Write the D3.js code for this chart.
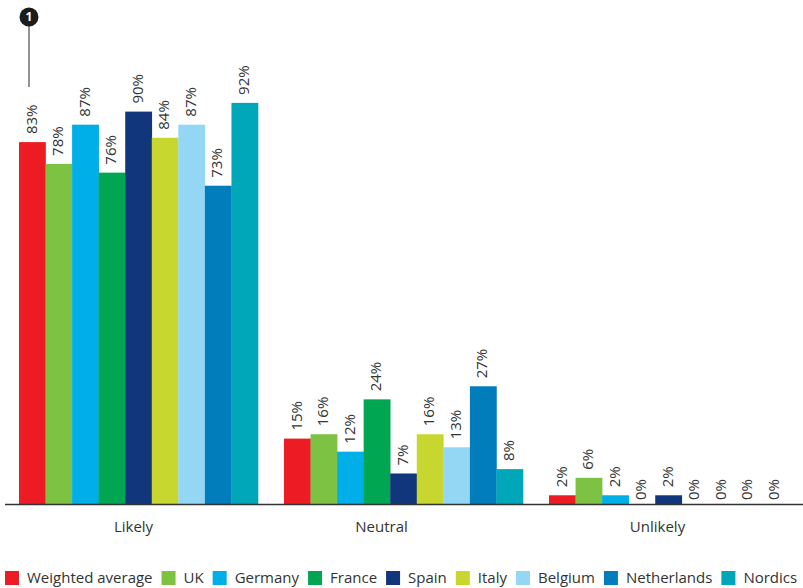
<!DOCTYPE html>
<html>
<head>
<meta charset="utf-8">
<script src="https://cdn.jsdelivr.net/npm/d3@7.9.0/dist/d3.min.js"></script>
<style>
  body { margin: 0; background: #fff; }
  svg { display: block; font-family: "Open Sans", sans-serif; }
</style>
</head>
<body>
<svg id="chart" width="803" height="588"></svg>
<script>
// data
const categories = ['Likely', 'Neutral', 'Unlikely'];
const seriesNames = ['Weighted average', 'UK', 'Germany', 'France', 'Spain', 'Italy', 'Belgium', 'Netherlands', 'Nordics'];
const seriesColors = ['#ed1c24', '#7dc242', '#00aee8', '#00a651', '#12367c', '#c8d72f', '#93d7f5', '#007dba', '#00a7b8'];
const likely = [83, 78, 87, 76, 90, 84, 87, 73, 92];
const neutral = [15, 16, 12, 24, 7, 16, 13, 27, 8];
const unlikely = [2, 6, 2, 0, 2, 0, 0, 0, 0];

const values = [likely, neutral, unlikely];
// category labels in the original sit a bit left of their group centre
const catLabelShift = [-5, -22, -11];

const svg = d3.select('#chart');
const baseY = 504;

const x0 = d3.scaleBand().domain(categories).range([6, 801]).paddingInner(0.098).paddingOuter(0.049);
const x1 = d3.scaleBand().domain(seriesNames).range([0, x0.bandwidth()]);
const y = d3.scaleLinear().domain([0, 100]).range([baseY, 68]);

// bars + labels
categories.forEach((cat, ci) => {
  const g = svg.append('g').attr('transform', `translate(${x0(cat)},0)`);
  values[ci].forEach((v, si) => {
    const name = seriesNames[si];
    g.append('rect')
      .attr('x', x1(name))
      .attr('y', y(v))
      .attr('width', x1.bandwidth() + 0.3)
      .attr('height', baseY - y(v))
      .attr('fill', seriesColors[si]);
    const cx = x1(name) + x1.bandwidth() / 2 - 1;
    const ty = y(v) - (v === 0 ? 4 : 8);
    g.append('text')
      .attr('transform', `translate(${cx},${ty}) rotate(-90)`)
      .attr('dy', '0.35em')
      .attr('font-size', 15)
      .attr('fill', '#333')
      .text(v + '%');
  });
});

// baseline axis
svg.append('line')
  .attr('x1', 5).attr('x2', 803)
  .attr('y1', baseY + 0.5).attr('y2', baseY + 0.5)
  .attr('stroke', '#333').attr('stroke-width', 1.3);

const xAxis = d3.axisBottom(x0).tickSize(0).tickPadding(17);
const axisG = svg.append('g').attr('transform', `translate(0,${baseY})`).call(xAxis);
axisG.select('.domain').remove();
axisG.selectAll('text')
  .attr('x', (d, i) => catLabelShift[i])
  .attr('font-size', 15)
  .attr('font-family', '"Open Sans", sans-serif')
  .attr('fill', '#333');

// annotation marker
svg.append('line')
  .attr('x1', 29).attr('x2', 29).attr('y1', 24).attr('y2', 87)
  .attr('stroke', '#6e6e6e').attr('stroke-width', 1.5);
svg.append('circle').attr('cx', 29).attr('cy', 17).attr('r', 9.5).attr('fill', '#1c1c1c');
svg.append('text')
  .attr('x', 29).attr('y', 17).attr('dy', '0.36em')
  .attr('text-anchor', 'middle')
  .attr('font-size', 12).attr('font-weight', 'bold')
  .attr('fill', '#fff').text('1');

// legend
const legend = svg.append('g').attr('transform', 'translate(5,571)');
let lx = 0;
seriesNames.forEach((name, i) => {
  const item = legend.append('g').attr('transform', `translate(${lx},0)`);
  item.append('rect').attr('width', 14).attr('height', 14).attr('fill', seriesColors[i]);
  const t = item.append('text')
    .attr('x', 22).attr('y', 7).attr('dy', '0.35em')
    .attr('font-size', 15).attr('fill', '#333')
    .text(name);
  lx += 22 + t.node().getComputedTextLength() + 9;
});
</script>
</body>
</html>
